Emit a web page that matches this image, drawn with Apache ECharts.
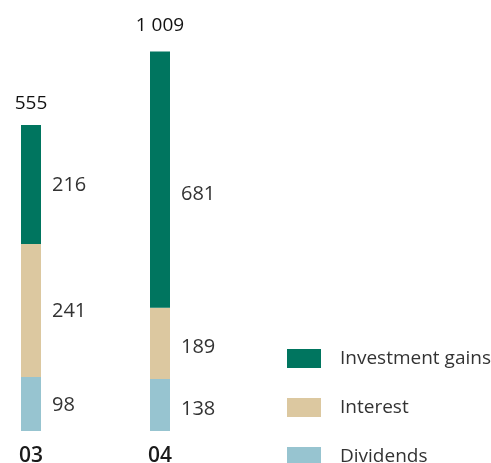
<!DOCTYPE html>
<html>
<head>
<meta charset="utf-8">
<script src="https://cdn.jsdelivr.net/npm/echarts@6/dist/echarts.min.js"></script>
<style>
  html, body { margin: 0; padding: 0; background: #fff; }
  #chart { width: 491px; height: 463px; }
</style>
</head>
<body>
<div id="chart"></div>
<script>
// years and components
var years = ['03', '04'];
var dividends = [98, 138];
var interest = [241, 189];
var investmentGains = [216, 681];
var totals = [555, 1009];

var names = ['Investment gains', 'Interest', 'Dividends'];
var colors = { 'Investment gains': '#00755f', 'Interest': '#dcc8a0', 'Dividends': '#97c4d0' };
var font = 'Open Sans';

// the two bars are not drawn on the same scale in the original, so each has its own axis
var axisMax = [689, 1009];
var totalGap = [12, 16];

function fmt(v) {
    return String(v).replace(/\B(?=(\d{3})+(?!\d))/g, ' ');
}

function only(arr, i) {
    return arr.map(function (v, j) { return j == i ? v : '-'; });
}

var series = [];
years.forEach(function (y, i) {
    var parts = [
        ['Dividends', dividends],
        ['Interest', interest],
        ['Investment gains', investmentGains]
    ];
    parts.forEach(function (p) {
        series.push({
            name: p[0],
            type: 'bar',
            stack: 's' + i,
            yAxisIndex: i,
            barWidth: 20,
            barGap: '-100%',
            data: only(p[1], i),
            itemStyle: { color: colors[p[0]] },
            label: {
                show: true,
                position: 'right',
                distance: 11,
                offset: [0, (i == 1 && p[0] == 'Investment gains') ? 15 : (i == 1 ? 4 : 1)],
                color: '#333',
                fontSize: 20,
                fontFamily: font
            }
        });
    });
    // total on top
    series.push({
        name: 'total' + i,
        type: 'bar',
        stack: 's' + i,
        yAxisIndex: i,
        barWidth: 20,
        barGap: '-100%',
        data: only([0, 0], i),
        itemStyle: { color: 'transparent' },
        label: {
            show: true,
            position: 'top',
            distance: totalGap[i],
            color: '#111',
            fontSize: 19,
            fontFamily: font,
            formatter: function () { return fmt(totals[i]); }
        }
    });
});

var chart = echarts.init(document.getElementById('chart'));
chart.setOption({
    animation: false,
    grid: { left: 31, right: 331, top: 51, bottom: 32, containLabel: false, outerBoundsMode: 'none' },
    legend: {
        data: names,
        orient: 'vertical',
        left: 287,
        top: 349,
        height: 200,
        padding: 0,
        itemWidth: 34,
        itemHeight: 19,
        itemGap: 30,
        icon: 'rect',
        textStyle: { fontSize: 19, color: '#333', fontFamily: font, padding: [0, 0, 0, 14] }
    },
    xAxis: {
        type: 'category',
        data: years,
        boundaryGap: false,
        axisLine: { show: false },
        axisTick: { show: false },
        axisLabel: { margin: 15, fontSize: 21, fontWeight: 600, color: '#1a1a1a', fontFamily: font }
    },
    yAxis: [0, 1].map(function (i) {
        return {
            type: 'value',
            min: 0,
            max: axisMax[i],
            show: false,
            splitLine: { show: false }
        };
    }),
    series: series
});
</script>
</body>
</html>
